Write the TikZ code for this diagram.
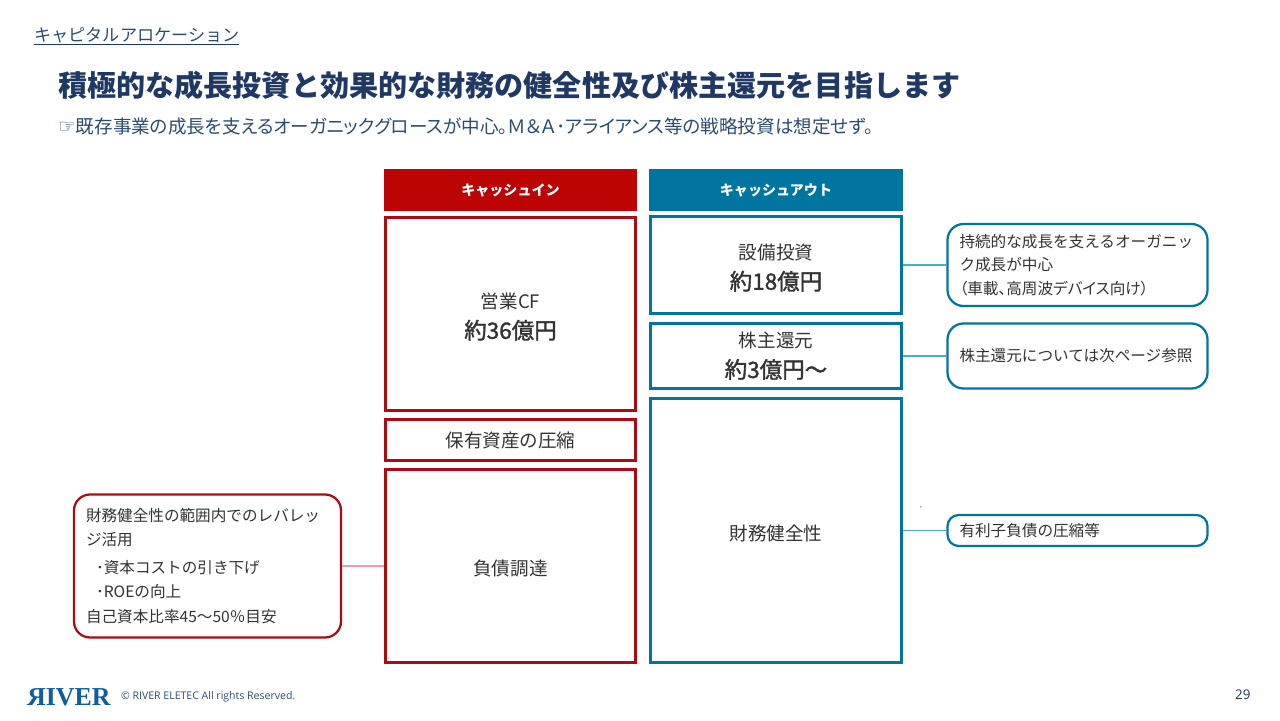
\documentclass[tikz,border=0pt]{standalone}
\usepackage{fontspec}
\usepackage{graphicx}
\setmainfont{Noto Sans CJK JP}
\newfontfamily\medfont[FakeBold=1.5]{Noto Sans CJK JP}
\newfontfamily\paltfont[RawFeature=+palt]{Noto Sans CJK JP}
\newfontfamily\symfont{DejaVu Sans}
\newfontfamily\latfont{Open Sans}
\newfontfamily\logofont{Liberation Serif}
\definecolor{navy}{HTML}{1F3864}
\definecolor{subnavy}{HTML}{2B4C70}
\definecolor{cashred}{HTML}{BC0404}
\definecolor{rimred}{HTML}{AE0A12}
\definecolor{cashblue}{HTML}{00759F}
\definecolor{linkblue}{HTML}{45AEC8}
\definecolor{linkred}{HTML}{EE9C9C}
\definecolor{inktext}{HTML}{333333}
\definecolor{logoblue}{HTML}{0F5CA0}
\newcommand{\lblfont}{\fontsize{13.2}{21.3}\selectfont}
\newcommand{\amtfont}{\fontsize{16}{21.3}\selectfont\medfont}
\newcommand{\notefont}{\fontsize{11.1}{16.5}\selectfont}
\newcommand{\dropstrut}{\rule{0pt}{15pt}}
\tikzset{
    hdrbox/.style={fill=#1, text=white, minimum height=1.05cm,
          font=\fontsize{10}{12}\selectfont\bfseries},
    flowbox/.style={draw=#1, line width=2.2pt, minimum width=6.25cm,
          text=inktext, align=center, inner sep=0pt},
    notebox/.style={draw=#1, line width=1.6pt, rounded corners=0.4cm,
          fill=white, text=inktext, align=left, inner xsep=0.3cm,
          inner ysep=0pt, font=\notefont},
    linkline/.style={draw=#1, line width=0.9pt}
}
\begin{document}
\begin{tikzpicture}
    \useasboundingbox (0,0) rectangle (32,18);
    % page heading
    \node[anchor=west, inner sep=0pt, text=subnavy,
          font=\fontsize{12.2}{14}\selectfont] (pagehead) at (0.85,17.125)
          {キャピタルアロケーション};
    \coordinate (headl) at (0.85,16.9);
    \coordinate (headr) at (5.98,16.9);
    \draw[navy, line width=0.7pt] (headl) -- (headr);
    \node[anchor=west, inner sep=0pt, text=navy,
          font=\fontsize{20.7}{24}\selectfont\bfseries] (title) at (1.45,15.87)
          {積極的な成長投資と効果的な財務の健全性及び株主還元を目指します};
    \node[anchor=west, inner sep=0pt, text=subnavy,
          font=\fontsize{13.2}{16}\selectfont] (subtitle) at (1.45,14.83)
          {{\symfont\fontsize{14}{16}\selectfont ☞}{\paltfont 既存事業の成長を支えるオーガニックグロースが中心。Ｍ＆Ａ･アライアンス等の戦略投資は想定せず。}};
    % cash in
    \node[hdrbox=cashred, minimum width=6.325cm] (hdrin) at (12.7625,13.25)
          {キャッシュイン};
    \node[flowbox=rimred, minimum height=4.825cm] (opcf) at (12.7625,10.15)
          {\lblfont\dropstrut 営業CF\\[6pt]\amtfont 約36億円};
    \node[flowbox=rimred, minimum height=1.025cm] (shrink) at (12.7625,7)
          {\lblfont 保有資産の圧縮};
    \node[flowbox=rimred, minimum height=4.825cm] (debt) at (12.7625,3.85)
          {\lblfont\dropstrut 負債調達};
    % cash out
    \node[hdrbox=cashblue, minimum width=6.35cm] (hdrout) at (19.4,13.25)
          {キャッシュアウト};
    \node[flowbox=cashblue, minimum width=6.29cm, minimum height=2.425cm]
          (capex) at (19.4,11.375)
          {\lblfont\dropstrut 設備投資\\[6pt]\amtfont 約18億円};
    \node[flowbox=cashblue, minimum width=6.29cm, minimum height=1.625cm]
          (payout) at (19.4,9.1)
          {\lblfont 株主還元\\[6pt]\amtfont 約3億円〜};
    \node[flowbox=cashblue, minimum width=6.29cm, minimum height=6.6cm]
          (health) at (19.4,4.7375)
          {\lblfont\dropstrut 財務健全性};
    % notes
    \node[notebox=cashblue, text width=5.9cm, minimum height=2.05cm]
          (capexnote) at (26.9375,11.375)
          {持続的な成長を支えるオーガニッ\\ク成長が中心\\{\paltfont （車載、高周波デバイス向け）}};
    \node[notebox=cashblue, text width=5.9cm, minimum height=1.625cm]
          (payoutnote) at (26.9375,9.1)
          {株主還元については次ページ参照};
    \node[notebox=cashblue, text width=5.9cm, minimum height=0.775cm,
          rounded corners=0.28cm] (healthnote) at (26.9375,4.7375)
          {有利子負債の圧縮等};
    \node[notebox=rimred, text width=6.075cm, minimum height=3.575cm]
          (debtnote) at (5.1875,3.85)
          {財務健全性の範囲内でのレバレッ\\[0.6pt]ジ活用\\[3.4pt]
          \hspace*{0.25cm}･資本コストの引き下げ\\[0.6pt]
          \hspace*{0.25cm}･ROEの向上\\[1.3pt]
          自己資本比率45～50％目安};
    % connectors
    \draw[linkline=linkblue] (capex) -- (capexnote);
    \draw[linkline=linkblue] (payout) -- (payoutnote);
    \draw[linkline=linkblue] (health) -- (healthnote);
    \draw[linkline=linkred] (debtnote) -- (debt);
    \fill[gray] (23.02,5.33) circle (0.02);
    % footer
    \node[anchor=west, inner sep=0pt, text=logoblue,
          font=\fontsize{18.4}{20}\selectfont\logofont\bfseries] (logo) at (0.67,0.58)
          {\scalebox{-1}[1]{R}IVER};
    \node[anchor=west, inner sep=0pt, text=subnavy,
          font=\fontsize{7.5}{9}\selectfont\latfont] (copyr) at (3.02,0.58)
          {© RIVER ELETEC All rights Reserved.};
    \node[inner sep=0pt, text=navy,
          font=\fontsize{9.5}{11}\selectfont\latfont] (pageno) at (31.07,0.63) {29};
\end{tikzpicture}
\end{document}
